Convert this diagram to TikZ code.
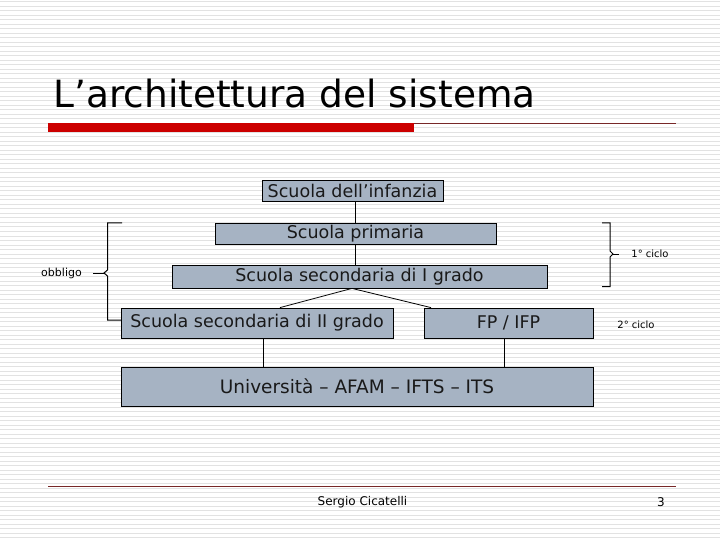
\documentclass[tikz,border=0pt]{standalone}
\usepackage{fontspec}
\setmainfont{DejaVu Sans}
\definecolor{boxfill}{RGB}{166,179,195}
\definecolor{titlered}{RGB}{204,0,0}
\definecolor{rulered}{RGB}{120,40,40}
\definecolor{bgline}{RGB}{226,226,226}
\begin{document}
\begin{tikzpicture}[x=1pt,y=-1pt,
  level/.style={draw=black,line width=0.8pt,fill=boxfill,inner sep=0pt,
    font=\fontsize{17.5}{20}\selectfont,text=black!90},
  conn/.style={draw=black,line width=0.8pt},
  small/.style={inner sep=0pt,font=\fontsize{11}{13}\selectfont}]
\useasboundingbox (0,0) rectangle (720,540);
% background lines
\foreach \yy in {2,6.5,...,540} {\draw[bgline,line width=1pt] (0,\yy) -- (720,\yy);}
% title
\node[anchor=base west,inner sep=0pt,font=\fontsize{37.5}{40}\selectfont] (title) at (53,108) {L’architettura del sistema};
\fill[titlered] (48,123) rectangle (414,132);
\draw[rulered,line width=0.8pt] (414,123.5) -- (676,123.5);
% boxes
\node[level,minimum width=181pt,minimum height=21pt] (inf) at (352.5,190.5) {Scuola dell’infanzia};
\node[level,minimum width=281pt,minimum height=21pt] (prim) at (355.5,233.5) {Scuola primaria};
\node[level,minimum width=375pt,minimum height=23pt] (sec1) at (359.5,276.5) {Scuola secondaria di I grado};
\node[level,minimum width=272pt,minimum height=30pt] (sec2) at (257,323) {Scuola secondaria di II grado};
\node[level,minimum width=169pt,minimum height=30pt] (fp) at (508.5,323) {FP / IFP};
\node[level,minimum width=472pt,minimum height=39pt,font=\fontsize{18.5}{20}\selectfont] (univ) at (357,386.5) {Università – AFAM – IFTS – ITS};
% connectors
\draw[conn] (prim.north) -- (prim.north |- inf.south);
\draw[conn] (prim.south) -- (prim.south |- sec1.north);
\coordinate (apex) at ([xshift=-7.5pt]sec1.south);
\draw[conn] (apex) -- ([xshift=23pt]sec2.north);
\draw[conn] (apex) -- ([xshift=-77.5pt]fp.north);
\coordinate (s2b) at ([xshift=6pt]sec2.south);
\draw[conn] (s2b) -- (s2b |- univ.north);
\coordinate (fpb) at ([xshift=-4.5pt]fp.south);
\draw[conn] (fpb) -- (fpb |- univ.north);
% brackets
\draw[conn,line width=1pt] (122,223) -- (107.5,223) -- (107.5,270) -- (104,273) -- (107.5,276) -- (107.5,320) -- (121,320);
\draw[conn,line width=1pt] (104,273) -- (93,273);
\node[small] (obb) at (61.5,273) {obbligo};
\draw[conn,line width=1pt] (602,223) -- (610,223) -- (610,251) -- (613,254) -- (610,257) -- (610,286.5) -- (602,286.5);
\draw[conn,line width=1pt] (613,254) -- (619,254);
\node[small,font=\fontsize{10}{12}\selectfont] (c1) at (650,254) {1° ciclo};
\node[small,font=\fontsize{10}{12}\selectfont] (c2) at (636,325) {2° ciclo};
% footer
\draw[rulered,line width=1pt] (48,486) -- (676,486);
\node[inner sep=0pt,font=\fontsize{12}{14}\selectfont] (author) at (362.5,502) {Sergio Cicatelli};
\node[inner sep=0pt,font=\fontsize{12}{14}\selectfont] (page) at (661,502) {3};
\end{tikzpicture}
\end{document}
